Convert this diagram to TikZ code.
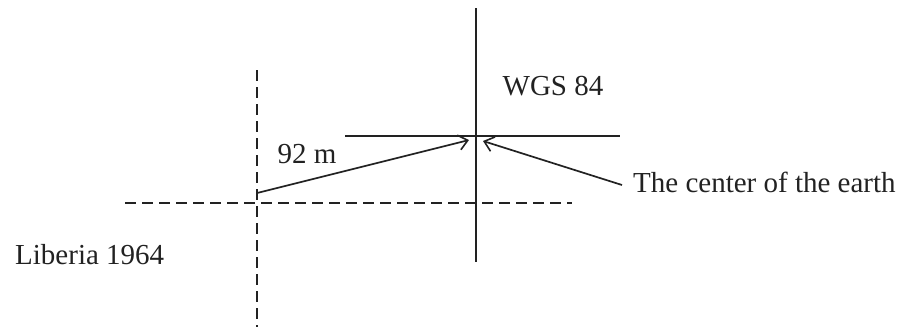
\documentclass[tikz,border=0pt]{standalone}
\usepackage{fontspec}
\setmainfont{Liberation Serif}
\usetikzlibrary{arrows.meta}
\definecolor{ink}{HTML}{222222}
\begin{document}
\begin{tikzpicture}[x=1pt,y=-1pt,
  solidline/.style={draw=ink,line width=1.8pt},
  dashline/.style={draw=ink,line width=2.6pt,dash pattern=on 11pt off 6pt},
  arr/.style={draw=ink,line width=1.7pt,-{Straight Barb[length=9pt,width=15pt,line width=1.6pt]}},
  lbl/.style={font=\fontsize{29pt}{34pt}\selectfont,text=ink,inner sep=0pt}]
\useasboundingbox (0,0) rectangle (904,327);
% WGS 84 axes
\coordinate (wt) at (476,8);
\coordinate (wb) at (476,262);
\coordinate (wl) at (345,136);
\coordinate (wr) at (620,136);
\draw[solidline] (wt) -- (wb);
\draw[solidline] (wl) -- (wr);
% Liberia 1964 axes
\coordinate (lt) at (257,70);
\coordinate (lb) at (257,327);
\coordinate (ll) at (125,203);
\coordinate (lr) at (572,203);
\draw[dashline] (lt) -- (lb);
\draw[dashline] (ll) -- (lr);
% arrows
\coordinate (a1s) at (257,193);
\coordinate (a1e) at (469,140);
\coordinate (a2s) at (622,185);
\coordinate (a2e) at (483,141);
\draw[arr] (a1s) -- (a1e);
\draw[arr] (a2s) -- (a2e);
% labels
\node[lbl] (d) at (307,154) {92 m};
\node[lbl] (wgs) at (553,86) {WGS 84};
\node[lbl,anchor=west] (ce) at (633,182) {The center of the earth};
\node[lbl,anchor=west] (lib) at (15,255) {Liberia 1964};
\end{tikzpicture}
\end{document}
